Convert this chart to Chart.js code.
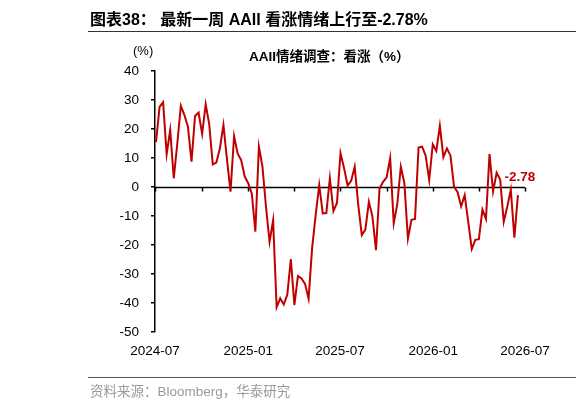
<!DOCTYPE html>
<html>
<head>
<meta charset="utf-8">
<script src="https://cdn.jsdelivr.net/npm/chart.js@4"></script>
<style>
  html, body { margin:0; padding:0; background:#fff; }
  body { width:576px; height:406px; position:relative; overflow:hidden; font-family:"Liberation Sans","Noto Sans CJK SC",sans-serif; }
  #c { position:absolute; left:0; top:0; }
  .t { position:absolute; white-space:nowrap; line-height:1; }
  #hdr { left:90px; top:12px; font-size:16px; font-weight:bold; color:#000; }
  #hline { position:absolute; left:88px; right:0; top:31px; height:1px; background:#333; }
  #ttl { left:249px; top:50px; font-size:13.5px; font-weight:bold; color:#000; }
  #unit { left:133px; top:44px; font-size:13px; color:#000; }
  #fline { position:absolute; left:88px; right:0; top:377px; height:1px; background:#555; }
  #src { left:90px; top:385px; font-size:13.5px; color:#9a9a9a; }
</style>
</head>
<body>
<canvas id="c" width="576" height="406"></canvas>
<div class="t" id="hdr">图表38： 最新一周 AAII 看涨情绪上行至-2.78%</div>
<div id="hline"></div>
<div class="t" id="unit">(%)</div>
<div class="t" id="ttl">AAII情绪调查：看涨（%）</div>
<div id="fline"></div>
<div class="t" id="src">资料来源：Bloomberg，华泰研究</div>
<script>
// ---- data (weekly readings) ----
const firstWeek = '2024-07-03';
const bullish = [
  15.5, 27.6, 29.2, 11.3, 19.6, 3.0, 15.0, 28.0, 24.8, 20.8,
  8.7, 24.5, 25.7, 18.3, 28.5, 21.6, 7.8, 8.4, 13.3, 21.4,
  9.5, -1.6, 17.6, 11.6, 9.3, 3.6, 1.3, -2.3, -15.4, 13.9,
  7.0, -6.8, -18.9, -11.5, -41.5, -38.4, -40.5, -37.2, -24.9, -40.7,
  -30.7, -31.5, -33.4, -38.5, -21.1, -9.7, 0.7, -9.1, -9.0, 3.0,
  -8.3, -5.5, 11.7, 6.5, 0.5, 2.1, 7.0, -6.2, -16.6, -14.7,
  -5.1, -10.2, -21.8, -0.6, 1.8, 3.3, 10.0, -12.5, -5.9, 7.0,
  1.3, -17.8, -11.3, -11.0, 13.6, 13.9, 10.8, 2.4, 14.7, 12.4,
  21.1, 10.3, 13.3, 10.8, 0.1, -1.8, -6.7, -2.8, -12.0, -21.4,
  -18.2, -18.0, -7.8, -11.0, 11.4, -1.6, 4.9, 2.6, -12.0, -6.8,
  -0.9, -17.5, -2.78
];
const xTickMonths = ['2024-07','2024-10','2025-01','2025-04','2025-07','2025-10','2026-01','2026-04','2026-07'];
const xLabelMonths = ['2024-07','2025-01','2025-07','2026-01','2026-07'];
const yTicks = [40, 30, 20, 10, 0, -10, -20, -30, -40, -50];
const lastLabel = '-2.78';

// ---- helpers ----
const DAY = 86400000;
const origin = Date.UTC(2024, 6, 1);
function monthToDay(m) { const [y, mo] = m.split('-').map(Number); return (Date.UTC(y, mo - 1, 1) - origin) / DAY; }
const [fy, fm, fd] = firstWeek.split('-').map(Number);
const points = bullish.map((v, i) => ({ x: (Date.UTC(fy, fm - 1, fd + 7 * i) - origin) / DAY, y: v }));
const tickDays = xTickMonths.map(monthToDay);
const labelMap = {};
xLabelMonths.forEach(m => { labelMap[monthToDay(m)] = m; });

const RED = '#C00000';

const zeroAxis = {
  id: 'zeroAxis',
  beforeDatasetsDraw(chart) {
    const { ctx, chartArea, scales } = chart;
    const y0 = Math.round(scales.y.getPixelForValue(0)) + 0.5;
    ctx.save();
    ctx.strokeStyle = '#000';
    ctx.lineWidth = 1.5;
    ctx.beginPath();
    ctx.moveTo(chartArea.left, y0);
    ctx.lineTo(chartArea.right, y0);
    tickDays.forEach(d => {
      const x = Math.round(scales.x.getPixelForValue(d)) + 0.5;
      ctx.moveTo(x, y0);
      ctx.lineTo(x, y0 + 4);
    });
    ctx.stroke();
    ctx.restore();
  },
  afterDatasetsDraw(chart) {
    const meta = chart.getDatasetMeta(0);
    const pt = meta.data[meta.data.length - 1];
    const { ctx } = chart;
    ctx.save();
    ctx.fillStyle = RED;
    ctx.font = 'bold 13.5px "Liberation Sans", Arial, sans-serif';
    ctx.textAlign = 'center';
    ctx.textBaseline = 'middle';
    ctx.fillText(lastLabel, pt.x + 2, pt.y - 18);
    ctx.restore();
  }
};

new Chart(document.getElementById('c'), {
  type: 'line',
  data: {
    datasets: [{
      data: points,
      borderColor: RED,
      borderWidth: 2,
      pointRadius: 0,
      tension: 0,
      fill: false
    }]
  },
  options: {
    responsive: false,
    animation: false,
    devicePixelRatio: 1,
    layout: { padding: { top: 71, right: 51, bottom: 34, left: 0 } },
    plugins: { legend: { display: false }, tooltip: { enabled: false }, title: { display: false } },
    scales: {
      x: {
        type: 'linear',
        min: monthToDay(xTickMonths[0]),
        max: monthToDay(xTickMonths[xTickMonths.length - 1]),
        afterBuildTicks(scale) { scale.ticks = tickDays.map(v => ({ value: v })); },
        afterFit(scale) { scale.height = 40; },
        border: { display: false },
        grid: { display: true, drawOnChartArea: false, drawTicks: false, color: 'rgba(0,0,0,0)' },
        ticks: {
          autoSkip: false,
          maxRotation: 0,
          padding: 11,
          color: '#000',
          font: { family: '"Liberation Sans", Arial, sans-serif', size: 13.5 },
          callback(v) { return labelMap[v] || ''; }
        }
      },
      y: {
        min: -50,
        max: 40,
        afterBuildTicks(scale) { scale.ticks = yTicks.map(v => ({ value: v })); },
        afterFit(scale) { scale.width = 155; },
        border: { display: true, color: '#000', width: 1.5 },
        grid: { display: true, drawOnChartArea: false, drawTicks: true, tickLength: 4, color: '#000', lineWidth: 1.5 },
        ticks: {
          padding: 12,
          color: '#000',
          font: { family: '"Liberation Sans", Arial, sans-serif', size: 13.5 }
        }
      }
    }
  },
  plugins: [zeroAxis]
});
</script>
</body>
</html>
